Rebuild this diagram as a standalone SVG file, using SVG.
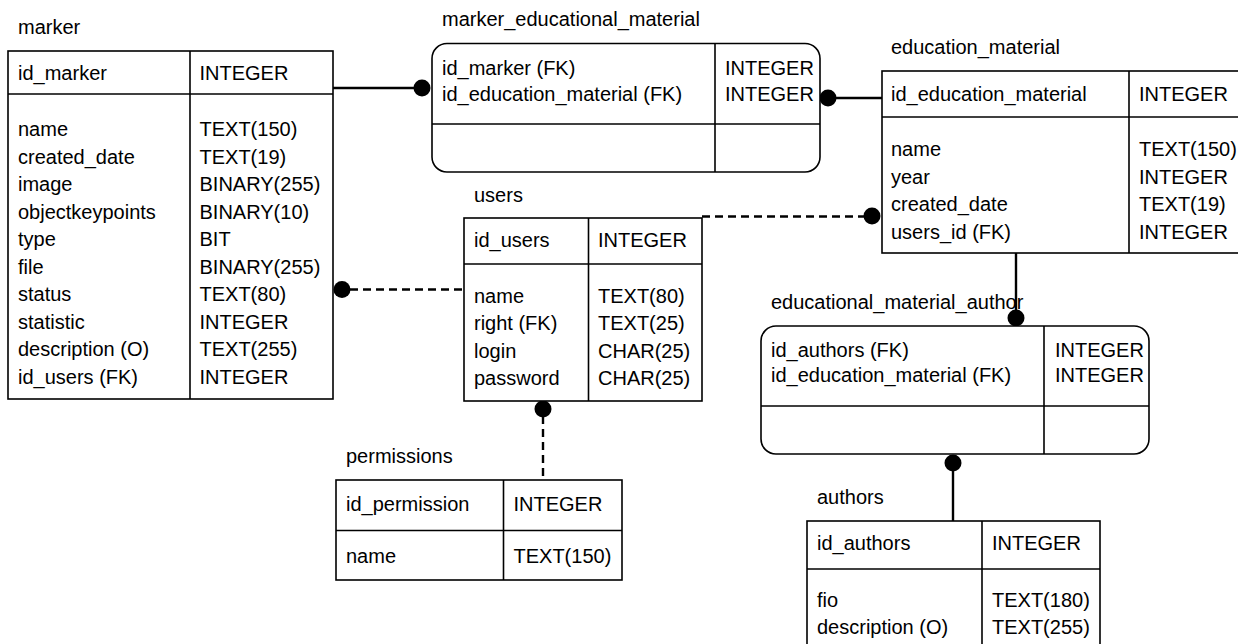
<svg xmlns="http://www.w3.org/2000/svg" width="1238" height="644" viewBox="0 0 1238 644">
<style>
text{font-family:"Liberation Sans",Arial,sans-serif;font-size:20px;fill:#000}
.box{fill:#fff;stroke:#000;stroke-width:1.6}
.ln{stroke:#000;stroke-width:1.6;fill:none}
.c{stroke:#000;stroke-width:2.4;fill:none}
.d{stroke:#000;stroke-width:2.4;fill:none;stroke-dasharray:8 5}
.dot{fill:#000}
</style>
<rect width="1238" height="644" fill="#fff"/>
<g id="connectors">
<line class="c" x1="333" y1="88" x2="422" y2="88"/>
<circle class="dot" cx="422" cy="88" r="8.5"/>
<line class="c" x1="828" y1="98" x2="882" y2="98"/>
<circle class="dot" cx="828" cy="98" r="8.5"/>
<line class="d" x1="702" y1="216.5" x2="866" y2="216.5"/>
<circle class="dot" cx="872" cy="216" r="8.5"/>
<line class="d" x1="350" y1="289.5" x2="464" y2="289.5"/>
<circle class="dot" cx="342" cy="289.5" r="8.5"/>
<line class="d" x1="543" y1="416" x2="543" y2="480"/>
<circle class="dot" cx="543" cy="409" r="8.5"/>
<line class="c" x1="1016" y1="253" x2="1016" y2="318"/>
<circle class="dot" cx="1016" cy="318" r="8.5"/>
<line class="c" x1="953" y1="463" x2="953" y2="521"/>
<circle class="dot" cx="953" cy="463" r="8.5"/>
</g>
<g id="marker">
<text x="18" y="34">marker</text>
<rect class="box" x="8" y="51" width="325" height="348"/>
<line class="ln" x1="190" y1="51" x2="190" y2="399"/>
<line class="ln" x1="8" y1="94" x2="333" y2="94"/>
<text x="18" y="80">id_marker</text>
<text x="199.5" y="80">INTEGER</text>
<text x="18" y="136">name</text><text x="199.5" y="136">TEXT(150)</text>
<text x="18" y="163.5">created_date</text><text x="199.5" y="163.5">TEXT(19)</text>
<text x="18" y="191">image</text><text x="199.5" y="191">BINARY(255)</text>
<text x="18" y="218.5">objectkeypoints</text><text x="199.5" y="218.5">BINARY(10)</text>
<text x="18" y="246">type</text><text x="199.5" y="246">BIT</text>
<text x="18" y="273.5">file</text><text x="199.5" y="273.5">BINARY(255)</text>
<text x="18" y="301">status</text><text x="199.5" y="301">TEXT(80)</text>
<text x="18" y="328.5">statistic</text><text x="199.5" y="328.5">INTEGER</text>
<text x="18" y="356">description (O)</text><text x="199.5" y="356">TEXT(255)</text>
<text x="18" y="383.5">id_users (FK)</text><text x="199.5" y="383.5">INTEGER</text>
</g>
<g id="marker_educational_material">
<text x="442" y="26">marker_educational_material</text>
<rect class="box" x="432" y="43.5" width="388" height="128.5" rx="15" ry="15"/>
<line class="ln" x1="715" y1="43.5" x2="715" y2="172"/>
<line class="ln" x1="432" y1="124" x2="820" y2="124"/>
<text x="442" y="75">id_marker (FK)</text><text x="725" y="75">INTEGER</text>
<text x="442" y="101">id_education_material (FK)</text><text x="725" y="101">INTEGER</text>
</g>
<g id="education_material">
<text x="891" y="54">education_material</text>
<rect class="box" x="882" y="71" width="370" height="182"/>
<line class="ln" x1="1129" y1="71" x2="1129" y2="253"/>
<line class="ln" x1="882" y1="117" x2="1252" y2="117"/>
<text x="891" y="101">id_education_material</text><text x="1139" y="101">INTEGER</text>
<text x="891" y="156">name</text><text x="1139" y="156">TEXT(150)</text>
<text x="891" y="183.5">year</text><text x="1139" y="183.5">INTEGER</text>
<text x="891" y="211">created_date</text><text x="1139" y="211">TEXT(19)</text>
<text x="891" y="238.5">users_id (FK)</text><text x="1139" y="238.5">INTEGER</text>
</g>
<g id="users">
<text x="474" y="201.5">users</text>
<rect class="box" x="464" y="218" width="238" height="183"/>
<line class="ln" x1="588.5" y1="218" x2="588.5" y2="401"/>
<line class="ln" x1="464" y1="264" x2="702" y2="264"/>
<text x="474" y="247">id_users</text><text x="598" y="247">INTEGER</text>
<text x="474" y="302.5">name</text><text x="598" y="302.5">TEXT(80)</text>
<text x="474" y="330">right (FK)</text><text x="598" y="330">TEXT(25)</text>
<text x="474" y="357.5">login</text><text x="598" y="357.5">CHAR(25)</text>
<text x="474" y="385">password</text><text x="598" y="385">CHAR(25)</text>
</g>
<g id="permissions">
<text x="346" y="463">permissions</text>
<rect class="box" x="336" y="480" width="286" height="100"/>
<line class="ln" x1="503.5" y1="480" x2="503.5" y2="580"/>
<line class="ln" x1="336" y1="530.5" x2="622" y2="530.5"/>
<text x="346" y="511">id_permission</text><text x="513.5" y="511">INTEGER</text>
<text x="346" y="563">name</text><text x="513.5" y="563">TEXT(150)</text>
</g>
<g id="educational_material_author">
<text x="771" y="309">educational_material_author</text>
<rect class="box" x="761" y="326" width="388" height="128" rx="15" ry="15"/>
<line class="ln" x1="1044" y1="326" x2="1044" y2="454"/>
<line class="ln" x1="761" y1="406" x2="1149" y2="406"/>
<text x="771" y="356.5">id_authors (FK)</text><text x="1055" y="356.5">INTEGER</text>
<text x="771" y="382">id_education_material (FK)</text><text x="1055" y="382">INTEGER</text>
</g>
<g id="authors">
<text x="817" y="504">authors</text>
<rect class="box" x="807" y="521" width="293" height="135"/>
<line class="ln" x1="982" y1="521" x2="982" y2="656"/>
<line class="ln" x1="807" y1="569" x2="1100" y2="569"/>
<text x="817" y="550">id_authors</text><text x="992" y="550">INTEGER</text>
<text x="817" y="606.5">fio</text><text x="992" y="606.5">TEXT(180)</text>
<text x="817" y="633.5">description (O)</text><text x="992" y="633.5">TEXT(255)</text>
</g>
</svg>
